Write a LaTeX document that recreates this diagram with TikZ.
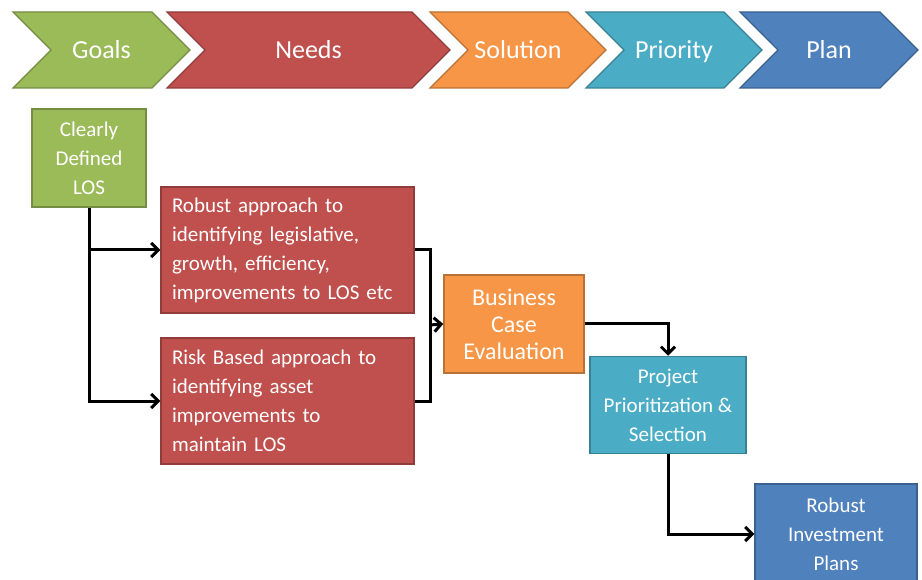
\documentclass[tikz,border=0pt]{standalone}
\usepackage{fontspec}
\setmainfont{Carlito}
\usetikzlibrary{arrows.meta, positioning}

\definecolor{goalgreen}{HTML}{9BBB59}
\definecolor{needred}{HTML}{C0504D}
\definecolor{solorange}{HTML}{F79646}
\definecolor{prioteal}{HTML}{4BACC6}
\definecolor{planblue}{HTML}{4F81BD}

\tikzset{
	chev/.style={fill=#1, draw=#1!75!black, line width=1.2pt},
	chevtext/.style={text=white, font=\fontsize{26}{30}\selectfont, anchor=base},
	box/.style={fill=#1, draw=#1!75!black, line width=1.5pt, text=white,
		font=\fontsize{21}{29}\selectfont, align=center, inner sep=0pt},
	flow/.style={line width=3pt, -{Straight Barb[length=7pt, width=14pt, line width=3pt]}},
	link/.style={line width=3pt},
}

\begin{document}
\begin{tikzpicture}[x=1pt, y=-1pt]
	\useasboundingbox (0, 0) rectangle (922, 580);
	% stage chevrons
	\foreach \l/\r/\c/\t/\n in {13/152/goalgreen/Goals/goals, 167/412/needred/Needs/needs,
			430/568/solorange/Solution/solution, 586/724/prioteal/Priority/priority,
			740/880/planblue/Plan/plan} {
		\filldraw[chev=\c] (\l, 12) -- (\r, 12) -- (\r+38, 50) -- (\r, 88)
			-- (\l, 88) -- (\l+38, 50) -- cycle;
		\node[chevtext] (\n) at ({(\l+\r+38)/2}, 59) {\t};
	}
	% boxes
	\node[box=goalgreen, minimum width=114pt, minimum height=98pt] (los) at (89, 158)
		{Clearly\\Defined\\LOS};
	\node[box=needred, minimum width=253pt, minimum height=126pt, align=left,
		text width=231pt, inner xsep=11pt] (robust) at (287.5, 250)
		{Robust approach to\\identifying legislative,\\growth, efficiency,\\improvements to LOS etc};
	\node[box=needred, minimum width=253pt, minimum height=126pt, align=left,
		text width=231pt, inner xsep=11pt] (risk) at (287.5, 401)
		{Risk Based approach to\\identifying asset\\improvements to\\maintain LOS};
	\node[box=solorange, minimum width=140pt, minimum height=98pt,
		font=\fontsize{24}{27}\selectfont] (bce) at (514, 324)
		{Business\\Case\\Evaluation};
	\node[box=prioteal, minimum width=156pt, minimum height=97pt] (proj) at (668, 405)
		{Project\\Prioritization \&\\Selection};
	\node[box=planblue, minimum width=162pt, minimum height=100pt] (invest) at (836, 534)
		{Robust\\Investment\\Plans};
	% connectors
	\coordinate (join) at (430, 325);
	\draw[flow] (los.south) |- (robust.west);
	\draw[flow] (los.south) |- (risk.west);
	\draw[link] (robust.east) -| (join) |- (risk.east);
	\draw[flow] (join) -- (bce.west);
	\draw[flow] (bce.east) -| (proj.north);
	\draw[flow] (proj.south) |- (invest.west);
\end{tikzpicture}
\end{document}
